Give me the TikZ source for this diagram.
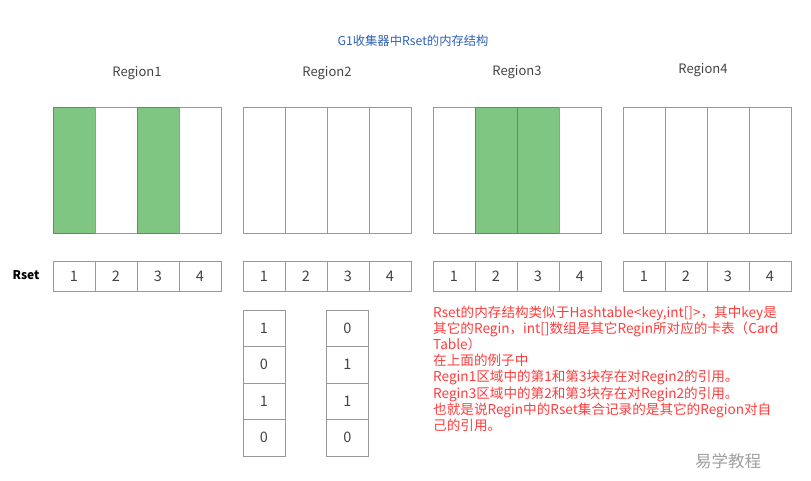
\documentclass[tikz,border=0pt]{standalone}
\usepackage{fontspec}
\setmainfont{Noto Sans CJK SC}
\definecolor{gridc}{HTML}{999999}
\definecolor{greenc}{HTML}{80C683}
\definecolor{titlec}{HTML}{2E62B8}
\definecolor{redc}{HTML}{FF3D3D}
\definecolor{labc}{HTML}{444444}
\definecolor{wmc}{HTML}{A0A0A0}
\tikzset{
  col/.style={draw=gridc, line width=1pt, minimum width=42pt, minimum height=125pt, inner sep=0pt, outer sep=0pt},
  gcol/.style={col, fill=greenc, draw=gridc!80!black},
  cell/.style={draw=gridc, line width=1pt, minimum width=42pt, minimum height=30pt, inner sep=0pt, outer sep=0pt, font=\fontsize{14.5}{16}\selectfont, text=labc},
  vcell/.style={draw=gridc, line width=1pt, minimum width=42pt, minimum height=36.5pt, inner sep=0pt, outer sep=0pt, font=\fontsize{14.5}{16}\selectfont, text=labc},
  rlabel/.style={font=\fontsize{13}{15}\selectfont, text=labc, inner sep=0pt},
}
\begin{document}
\begin{tikzpicture}[x=1pt,y=-1pt]
\useasboundingbox (0,0) rectangle (811,481);
\fill[white] (0,0) rectangle (811,481);
\node[font=\fontsize{12.3}{14}\selectfont, text=titlec, inner sep=0pt] (title) at (413,41) {G1收集器中Rset的内存结构};
\node[rlabel] (l1) at (137,73) {Region1};
\node[rlabel] (l2) at (327,73) {Region2};
\node[rlabel] (l3) at (517,72) {Region3};
\node[rlabel] (l4) at (703,70) {Region4};
% region 1
\node[gcol] (r1a) at (74,170.5) {};
\node[col]  (r1b) at (116,170.5) {};
\node[gcol] (r1c) at (158,170.5) {};
\node[col]  (r1d) at (200,170.5) {};
% region 2
\node[col] (r2a) at (264,170.5) {};
\node[col] (r2b) at (306,170.5) {};
\node[col] (r2c) at (348,170.5) {};
\node[col] (r2d) at (390,170.5) {};
% region 3
\node[col]  (r3a) at (454,170.5) {};
\node[gcol] (r3b) at (496,170.5) {};
\node[gcol] (r3c) at (538,170.5) {};
\node[col]  (r3d) at (580,170.5) {};
% region 4
\node[col] (r4a) at (644,170.5) {};
\node[col] (r4b) at (686,170.5) {};
\node[col] (r4c) at (728,170.5) {};
\node[col] (r4d) at (770,170.5) {};
% Rset label
\node[font=\fontsize{12}{14}\selectfont\bfseries, inner sep=0pt] (rset) at (26,275.5) {Rset};
% Rset rows
\foreach \x/\n in {53/1,243/2,433/3,623/4}{
  \node[cell] (s\n a) at (\x+21,276) {1};
  \node[cell] (s\n b) at (\x+63,276) {2};
  \node[cell] (s\n c) at (\x+105,276) {3};
  \node[cell] (s\n d) at (\x+147,276) {4};
}
% vertical tables
\node[vcell] (va1) at (264,328.25) {1};
\node[vcell] (va2) at (264,364.75) {0};
\node[vcell] (va3) at (264,401.25) {1};
\node[vcell] (va4) at (264,437.75) {0};
\node[vcell] (vb1) at (347.5,328.25) {0};
\node[vcell] (vb2) at (347.5,364.75) {1};
\node[vcell] (vb3) at (347.5,401.25) {1};
\node[vcell] (vb4) at (347.5,437.75) {0};
% note
\node[anchor=north west, inner sep=0pt, align=left, text=redc, font=\fontsize{13.6}{16.2}\selectfont] (note) at (433,305.5) {Rset的内存结构类似于Hashtable<key,int[]>，其中key是\\
其它的Regin，int[]数组是其它Regin所对应的卡表（Card\\
Table）\\
在上面的例子中\\
Regin1区域中的第1和第3块存在对Regin2的引用。\\
Regin3区域中的第2和第3块存在对Regin2的引用。\\
也就是说Regin中的Rset集合记录的是其它的Region对自\\
己的引用。};
\node[text=wmc, font=\fontsize{16.5}{18}\selectfont, inner sep=0pt] (wm) at (728,461) {易学教程};
\end{tikzpicture}
\end{document}
